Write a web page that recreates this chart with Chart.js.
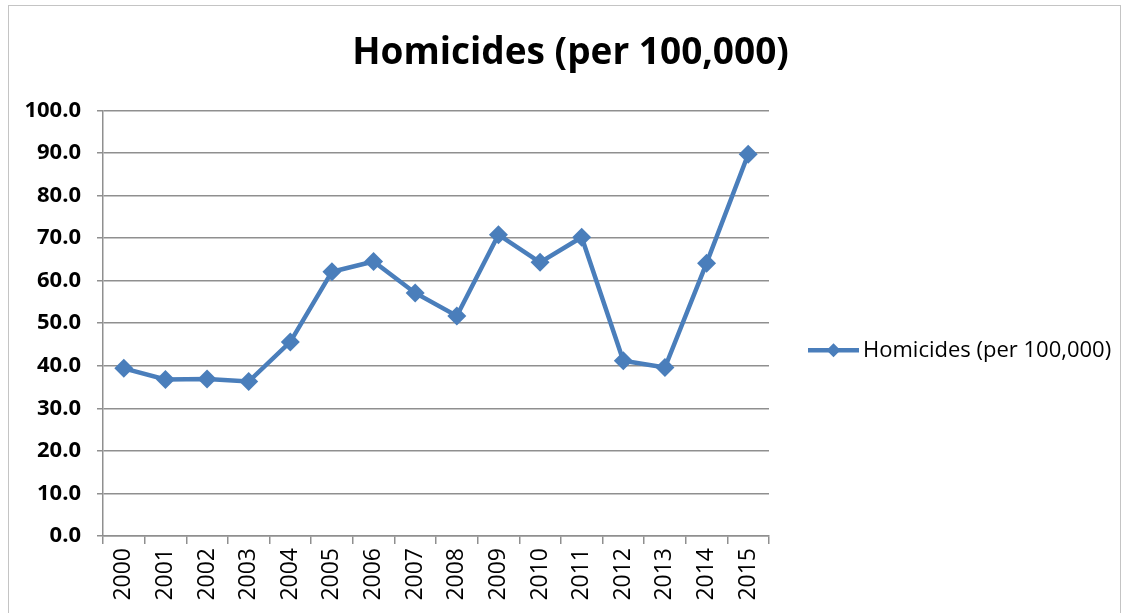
<!DOCTYPE html>
<html>
<head>
<meta charset="utf-8">
<title>Homicides (per 100,000)</title>
<script src="https://cdn.jsdelivr.net/npm/chart.js@4/dist/chart.umd.min.js"></script>
<style>
    html, body { margin: 0; padding: 0; background: #fff; overflow: hidden; }
    #frame {
        position: absolute; left: 8px; top: 5px; width: 1111px; height: 640px;
        border: 1.5px solid #c4c4c4; pointer-events: none;
    }
    canvas { display: block; }
</style>
</head>
<body>
<canvas id="chart" width="1125" height="613"></canvas>
<div id="frame"></div>
<script>
// values
const years = ['2000', '2001', '2002', '2003', '2004', '2005', '2006', '2007',
               '2008', '2009', '2010', '2011', '2012', '2013', '2014', '2015'];
const homicides = [39.4, 36.8, 36.9, 36.3, 45.6, 62.1, 64.5, 57.1,
                   51.7, 70.8, 64.3, 70.2, 41.2, 39.6, 64.1, 89.7];
const yTicks = [0, 10, 20, 30, 40, 50, 60, 70, 80, 90, 100];

const seriesLabel = 'Homicides (per 100,000)';
const blue = '#4a7ebb';
const gridGray = '#8f8f8f';

// legend drawn as line + diamond, like the spreadsheet legend
const lineLegend = {
    id: 'lineLegend',
    afterDraw(chart) {
        const ctx = chart.ctx;
        const area = chart.chartArea;
        const x = area.right + 39;
        const y = (area.top + area.bottom) / 2 + 27;
        ctx.save();
        ctx.strokeStyle = blue;
        ctx.lineWidth = 4.5;
        ctx.beginPath();
        ctx.moveTo(x, y);
        ctx.lineTo(x + 51, y);
        ctx.stroke();
        ctx.fillStyle = blue;
        ctx.beginPath();
        ctx.moveTo(x + 25.5, y - 7);
        ctx.lineTo(x + 32.5, y);
        ctx.lineTo(x + 25.5, y + 7);
        ctx.lineTo(x + 18.5, y);
        ctx.closePath();
        ctx.fill();
        ctx.fillStyle = '#000';
        ctx.font = '22px "Open Sans"';
        ctx.textBaseline = 'middle';
        ctx.fillText(chart.data.datasets[0].label, x + 55, y + 1);
        ctx.restore();
    }
};

const ctx = document.getElementById('chart').getContext('2d');
const chart = new Chart(ctx, {
    type: 'line',
    data: {
        labels: years,
        datasets: [{
            label: seriesLabel,
            data: homicides,
            borderColor: blue,
            backgroundColor: blue,
            borderWidth: 4.5,
            tension: 0,
            pointStyle: 'rectRot',
            pointRadius: 9.5,
            pointHoverRadius: 9.5,
            pointBorderWidth: 0,
            pointBackgroundColor: blue
        }]
    },
    options: {
        responsive: false,
        animation: false,
        devicePixelRatio: 1,
        layout: { padding: { left: 16, right: 0, top: 0, bottom: 0 } },
        plugins: {
            legend: { display: false },
            tooltip: { enabled: false },
            title: {
                display: true,
                text: seriesLabel,
                color: '#000',
                font: { family: '"Open Sans"', size: 37, weight: 'bold' },
                padding: { top: 31, bottom: 35 }
            }
        },
        scales: {
            x: {
                type: 'category',
                offset: true,
                afterFit(scale) { scale.height = 77; },
                grid: {
                    offset: true,
                    drawOnChartArea: false,
                    drawTicks: true,
                    tickLength: 8,
                    color: gridGray,
                    lineWidth: 1.5
                },
                border: { color: gridGray, width: 1.5 },
                ticks: {
                    minRotation: 90,
                    maxRotation: 90,
                    autoSkip: false,
                    padding: 4,
                    color: '#000',
                    font: { family: '"Open Sans"', size: 23 }
                }
            },
            y: {
                min: 0,
                max: 100,
                afterFit(scale) { scale.width = 87; },
                afterBuildTicks(scale) { scale.ticks = yTicks.map(v => ({ value: v })); },
                grid: {
                    color: gridGray,
                    lineWidth: 1.5,
                    tickLength: 6
                },
                border: { color: gridGray, width: 1.5 },
                ticks: {
                    padding: 16,
                    color: '#000',
                    font: { family: '"Open Sans"', size: 22, weight: 'bold' },
                    callback: v => v.toFixed(1)
                }
            },
            // empty right-hand axis that keeps room for the legend
            legendSpace: {
                type: 'linear',
                position: 'right',
                afterFit(scale) { scale.width = 356; },
                grid: { display: false },
                border: { display: false },
                ticks: { display: false }
            }
        }
    },
    plugins: [lineLegend]
});
</script>
</body>
</html>
